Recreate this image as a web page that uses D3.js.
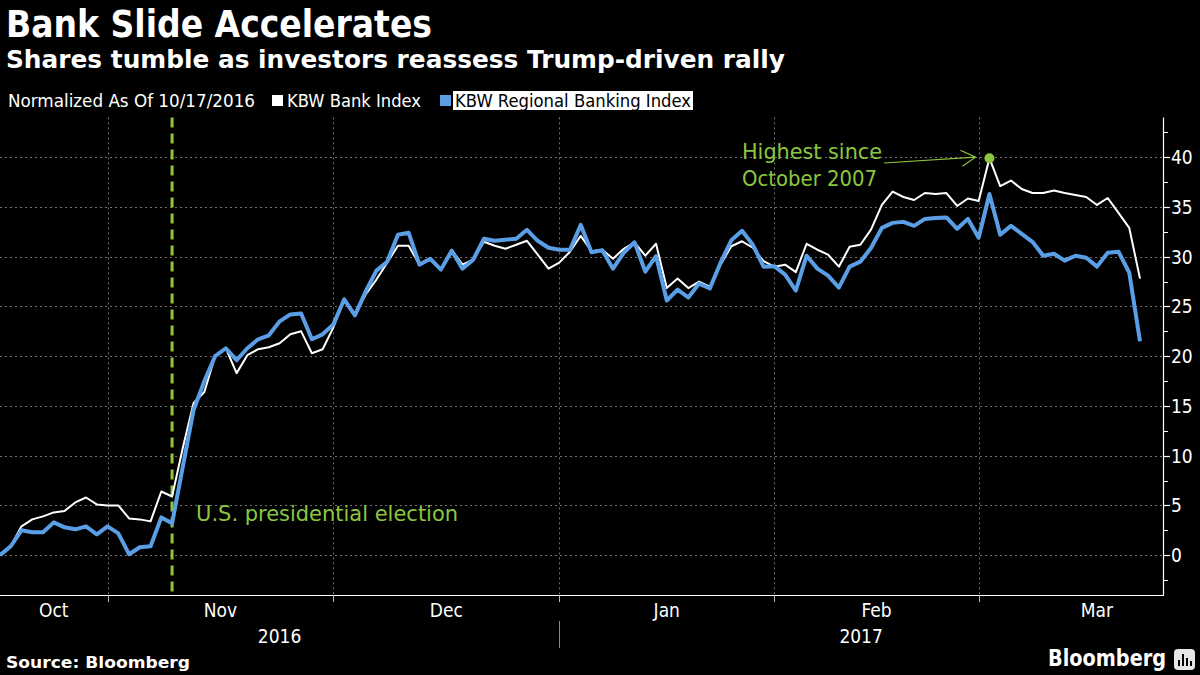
<!DOCTYPE html>
<html><head><meta charset="utf-8">
<script src="https://cdn.jsdelivr.net/npm/d3@7"></script>
<style>
html,body{margin:0;padding:0;background:#000;}
svg{display:block;}
text{font-family:"DejaVu Sans Condensed","DejaVu Sans",sans-serif;}
</style></head><body>
<svg id="chart" width="1200" height="675"></svg>
<script>
// KBW Bank Index, normalized as of 10/17/2016 (one value per trading day, 10/17/2016 .. 3/21/2017)
const bankIndex = [
  0, 0.9, 2.9, 3.6, 3.9, 4.3, 4.45, 5.3, 5.8, 5.1,
  5.0, 5.0, 3.7, 3.6, 3.4, 6.4, 5.9, 10.8, 15.3, 16.4,
  20.0, 20.8, 18.3, 20.1, 20.7, 20.9, 21.3, 22.2, 22.5, 20.3,
  20.7, 22.9, 25.8, 24.1, 26.2, 27.7, 29.4, 31.1, 31.1, 29.2,
  29.7, 28.7, 30.7, 29.2, 29.7, 31.5, 31.1, 30.8, 31.2, 31.6,
  30.2, 28.8, 29.4, 30.5, 32.1, 30.55, 30.7, 29.8, 30.8, 31.45,
  30.1, 31.3, 26.85, 27.8, 26.85, 27.5, 27.0, 29.2, 31.05, 31.55,
  30.9, 29.55, 29.0, 29.2, 28.45, 31.3, 30.7, 30.2, 29.0, 31.0,
  31.2, 32.75, 35.2, 36.55, 36.0, 35.7, 36.4, 36.3, 36.4, 35.1,
  35.85, 35.6, 39.9, 37.1, 37.65, 36.8, 36.4, 36.4, 36.65, 36.4,
  36.2, 36.0, 35.2, 35.9, 34.4, 32.9, 27.8
];
// KBW Regional Banking Index, normalized as of 10/17/2016
const regionalIndex = [
  0, 0.9, 2.5, 2.3, 2.3, 3.3, 2.8, 2.6, 2.9, 2.1,
  2.9, 2.2, 0.1, 0.8, 0.9, 3.8, 3.2, 8.9, 14.6, 17.5,
  20.0, 20.8, 19.6, 20.8, 21.7, 22.1, 23.5, 24.2, 24.3, 21.7,
  22.2, 23.2, 25.7, 24.1, 26.5, 28.6, 29.5, 32.2, 32.4, 29.2,
  29.8, 28.7, 30.6, 28.8, 29.7, 31.8, 31.6, 31.7, 31.8, 32.7,
  31.6, 30.9, 30.7, 30.7, 33.2, 30.45, 30.65, 28.8, 30.4, 31.45,
  28.5, 30.05, 25.6, 26.7, 25.9, 27.3, 26.8, 29.4, 31.65, 32.6,
  31.2, 29.0, 29.05, 28.2, 26.6, 30.1, 28.8, 28.1, 26.9, 29.0,
  29.5, 30.9, 32.9, 33.4, 33.5, 33.1, 33.8, 33.9, 33.95, 32.8,
  33.8, 31.9, 36.3, 32.2, 33.1, 32.3, 31.5, 30.1, 30.3, 29.6,
  30.1, 29.9, 29.0, 30.4, 30.5, 28.4, 21.5
];
const yTicks = [0, 5, 10, 15, 20, 25, 30, 35, 40];
const yMinorTicks = [-2.5, 2.5, 7.5, 12.5, 17.5, 22.5, 27.5, 32.5, 37.5, 42.5];
const monthLabels = ["Oct", "Nov", "Dec", "Jan", "Feb", "Mar"];
const monthCenters = [5, 20.5, 41.5, 62, 81.5, 102];     // trading-day index
const monthBoundaries = [10, 31, 52, 72, 91];            // last trading day of each month
const yearLabels = ["2016", "2017"];
const yearSpans = [[0, 52], [52, 108.14]];
const electionIndex = 16;   // 11/08/2016
const peakIndex = 92;       // 03/01/2017
const legendLabels = ["Normalized As Of 10/17/2016", "KBW Bank Index", "KBW Regional Banking Index"];

const W = 1200, H = 675;
const plotLeft = 0, plotRight = 1163, plotTop = 117.4, plotBottom = 595;
const GREEN = "#8cc63f", BLUE = "#5a9fe6", GRID = "#707070";

const svg = d3.select("#chart");
svg.append("rect").attr("width", W).attr("height", H).attr("fill", "#000");

const x = d3.scaleLinear().domain([0, bankIndex.length - 1]).range([0, 1140]);
const y = d3.scaleLinear().domain([-4, 44]).range([plotBottom, plotTop]);

// Title block
svg.append("text").attr("x", 6).attr("y", 37).attr("fill", "#fff")
  .attr("font-size", 37).attr("font-weight", "bold")
  .attr("textLength", 426).attr("lengthAdjust", "spacingAndGlyphs")
  .style("font-family", "'DejaVu Sans', sans-serif")
  .text("Bank Slide Accelerates");
svg.append("text").attr("x", 6).attr("y", 68).attr("fill", "#fff")
  .attr("font-size", 25).attr("font-weight", "bold")
  .attr("textLength", 779).attr("lengthAdjust", "spacingAndGlyphs")
  .style("font-family", "'DejaVu Sans', sans-serif")
  .text("Shares tumble as investors reassess Trump-driven rally");

// Legend
const lg = svg.append("g").attr("font-size", 17);
lg.append("text").attr("x", 8).attr("y", 107).attr("fill", "#fff")
  .attr("textLength", 247).attr("lengthAdjust", "spacingAndGlyphs").text(legendLabels[0]);
lg.append("rect").attr("x", 272).attr("y", 95).attr("width", 11).attr("height", 11).attr("fill", "#fff");
lg.append("text").attr("x", 287).attr("y", 107).attr("fill", "#fff")
  .attr("textLength", 134).attr("lengthAdjust", "spacingAndGlyphs").text(legendLabels[1]);
lg.append("rect").attr("x", 440).attr("y", 95).attr("width", 11).attr("height", 11).attr("fill", BLUE);
lg.append("rect").attr("x", 453).attr("y", 91).attr("width", 240).attr("height", 19).attr("fill", "#fff");
lg.append("text").attr("x", 455).attr("y", 107).attr("fill", "#000")
  .attr("textLength", 236).attr("lengthAdjust", "spacingAndGlyphs").text(legendLabels[2]);

// Gridlines
const grid = svg.append("g").attr("stroke", GRID).attr("stroke-width", 1).attr("stroke-dasharray", "2,3");
grid.selectAll("line.h").data(yTicks).join("line").attr("class", "h")
  .attr("x1", plotLeft).attr("x2", plotRight)
  .attr("y1", d => Math.round(y(d)) + 0.5).attr("y2", d => Math.round(y(d)) + 0.5);
grid.selectAll("line.v").data(monthBoundaries).join("line").attr("class", "v")
  .attr("x1", d => Math.round(x(d)) + 0.5).attr("x2", d => Math.round(x(d)) + 0.5)
  .attr("y1", plotTop).attr("y2", plotBottom);

// Election line
svg.append("line")
  .attr("x1", x(electionIndex)).attr("x2", x(electionIndex))
  .attr("y1", plotTop).attr("y2", plotBottom)
  .attr("stroke", GREEN).attr("stroke-width", 3).attr("stroke-dasharray", "10,6");
svg.append("text").attr("x", x(electionIndex) + 24).attr("y", 521)
  .attr("fill", GREEN).attr("font-size", 21)
  .attr("textLength", 262).attr("lengthAdjust", "spacingAndGlyphs")
  .text("U.S. presidential election");

// Lines
const line = d3.line().x((d, i) => x(i)).y(d => y(d));
svg.append("path").datum(bankIndex).attr("d", line)
  .attr("fill", "none").attr("stroke", "#fff").attr("stroke-width", 2).attr("stroke-linejoin", "round");
svg.append("path").datum(regionalIndex).attr("d", line)
  .attr("fill", "none").attr("stroke", BLUE).attr("stroke-width", 4).attr("stroke-linejoin", "round");

// Peak annotation
const px = x(peakIndex), py = y(bankIndex[peakIndex]);
svg.append("circle").attr("cx", px).attr("cy", py).attr("r", 5).attr("fill", GREEN);
const tipX = px - 14, tipY = py - 1;
svg.append("path")
  .attr("d", `M884,163 L${tipX},${tipY} M${tipX - 15},${tipY - 7} L${tipX},${tipY} L${tipX - 13},${tipY + 9}`)
  .attr("fill", "none").attr("stroke", GREEN).attr("stroke-width", 1.2);
svg.append("text").attr("x", 742).attr("y", 159).attr("fill", GREEN).attr("font-size", 21)
  .attr("textLength", 140).attr("lengthAdjust", "spacingAndGlyphs").text("Highest since");
svg.append("text").attr("x", 742).attr("y", 186).attr("fill", GREEN).attr("font-size", 21)
  .attr("textLength", 135).attr("lengthAdjust", "spacingAndGlyphs").text("October 2007");

// Y axis (right)
const ya = svg.append("g");
ya.append("line").attr("x1", plotRight + 0.5).attr("x2", plotRight + 0.5)
  .attr("y1", plotTop).attr("y2", plotBottom + 0.5).attr("stroke", "#fff").attr("stroke-width", 1.2);
ya.selectAll("line.maj").data(yTicks).join("line").attr("class", "maj")
  .attr("x1", plotRight).attr("x2", plotRight + 7)
  .attr("y1", d => Math.round(y(d)) + 0.5).attr("y2", d => Math.round(y(d)) + 0.5)
  .attr("stroke", "#fff").attr("stroke-width", 1.2);
ya.selectAll("line.min").data(yMinorTicks).join("line").attr("class", "min")
  .attr("x1", plotRight).attr("x2", plotRight + 5)
  .attr("y1", d => Math.round(y(d)) + 0.5).attr("y2", d => Math.round(y(d)) + 0.5)
  .attr("stroke", "#fff").attr("stroke-width", 1);
ya.selectAll("text").data(yTicks).join("text")
  .attr("x", plotRight + 8).attr("y", d => y(d) + 7)
  .attr("fill", "#fff").attr("font-size", 19).text(d => d);

// X axis
const xa = svg.append("g");
xa.append("line").attr("x1", plotLeft).attr("x2", plotRight + 1)
  .attr("y1", plotBottom + 0.5).attr("y2", plotBottom + 0.5).attr("stroke", "#fff").attr("stroke-width", 1.2);
xa.selectAll("line.tk").data(monthBoundaries).join("line").attr("class", "tk")
  .attr("x1", d => Math.round(x(d)) + 0.5).attr("x2", d => Math.round(x(d)) + 0.5)
  .attr("y1", plotBottom).attr("y2", plotBottom + 7).attr("stroke", "#bbb");
xa.selectAll("text.m").data(monthLabels).join("text").attr("class", "m")
  .attr("x", (d, i) => x(monthCenters[i])).attr("y", 617)
  .attr("text-anchor", "middle").attr("fill", "#fff").attr("font-size", 19).text(d => d);
xa.selectAll("text.yr").data(yearLabels).join("text").attr("class", "yr")
  .attr("x", (d, i) => (x(yearSpans[i][0]) + x(yearSpans[i][1])) / 2).attr("y", 643)
  .attr("text-anchor", "middle").attr("fill", "#fff").attr("font-size", 19).text(d => d);
xa.append("line").attr("x1", Math.round(x(yearSpans[1][0])) + 0.5).attr("x2", Math.round(x(yearSpans[1][0])) + 0.5)
  .attr("y1", 621).attr("y2", 648).attr("stroke", "#888");

// Footer
svg.append("text").attr("x", 6).attr("y", 668).attr("fill", "#fff")
  .attr("font-size", 16).attr("font-weight", "bold")
  .attr("textLength", 184).attr("lengthAdjust", "spacingAndGlyphs")
  .style("font-family", "'DejaVu Sans', sans-serif")
  .text("Source: Bloomberg");
svg.append("text").attr("x", 1048).attr("y", 666).attr("fill", "#fff")
  .attr("font-size", 23).attr("font-weight", "bold")
  .attr("textLength", 118).attr("lengthAdjust", "spacingAndGlyphs")
  .style("font-family", "'DejaVu Sans', sans-serif")
  .text("Bloomberg");
const icon = svg.append("g");
icon.append("rect").attr("x", 1174).attr("y", 649).attr("width", 21).attr("height", 21).attr("rx", 4).attr("fill", "#e6e6e6");
icon.append("rect").attr("x", 1178).attr("y", 660).attr("width", 2).attr("height", 6).attr("fill", "#000");
icon.append("rect").attr("x", 1182).attr("y", 654).attr("width", 2).attr("height", 12).attr("fill", "#000");
icon.append("rect").attr("x", 1186).attr("y", 658).attr("width", 2).attr("height", 8).attr("fill", "#000");
icon.append("rect").attr("x", 1190).attr("y", 661).attr("width", 2).attr("height", 5).attr("fill", "#000");
</script>
</body></html>
